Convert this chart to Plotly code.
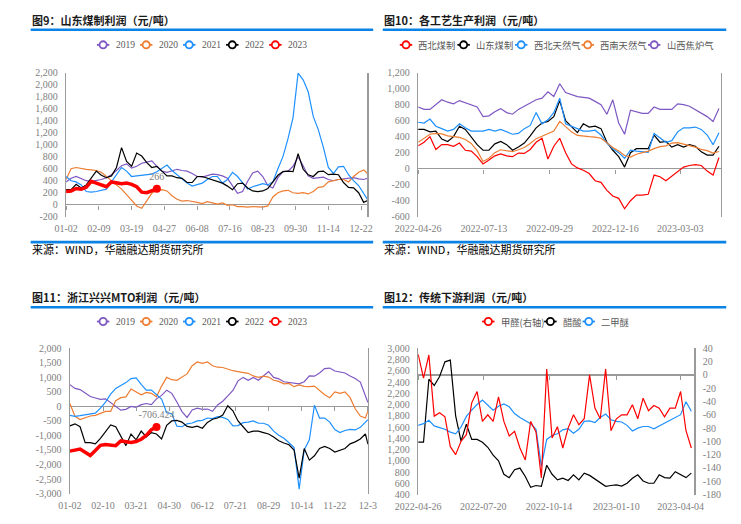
import plotly.graph_objects as go
import pandas as pd

W, H = 741, 524

# ======================= DATA =======================
# 图9 山东煤制利润（元/吨）: x = trading-day index within the year
p1_idx = list(range(0, 237, 4)) + [239]
p1_2019 = [380, 440, 470, 440, 400, 390, 400, 420, 450, 500, 570, 650, 680, 610, 640, 690, 710, 730, 640, 560,
           540, 560, 590, 570, 560, 520, 470, 460, 490, 510, 500, 480, 440, 320, 190, 220, 390, 530, 560, 470,
           320, 280, 450, 550, 560, 640, 800, 650, 480, 440, 450, 460, 420, 400, 420, 430, 450, 450, 430, 420, 440]
p1_2020 = [420, 600, 620, 600, 590, 580, 570, 540, 470, 400, 330, 260, 170, 70, -20, -60, 60, 190, 240, 250,
           230, 150, 90, 60, 70, 60, 40, 20, 50, 30, 10, 30, -10, 0, -30, -30, -40, -30, -40, -40,
           -20, 130, 200, 230, 240, 200, 190, 200, 180, 220, 290, 300, 380, 400, 420, 420, 380, 470, 540, 580, 520]
p1_2021 = [470, 400, 380, 330, 220, 210, 220, 240, 260, 380, 510, 620, 560, 470, 480, 490, 500, 510, 550, 610,
           660, 570, 500, 420, 360, 310, 330, 360, 420, 470, 470, 360, 420, 540, 470, 370, 260, 300, 330, 350,
           330, 380, 600, 800, 1100, 1450, 2190, 2080, 1880, 1470, 1250, 960, 620, 520, 630, 640, 500, 400, 320, 180, 90]
p1_2022 = [250, 250, 340, 280, 330, 450, 560, 490, 450, 480, 620, 950, 720, 640, 860, 810, 700, 620, 640, 560,
           480, 480, 450, 440, 370, 370, 470, 470, 440, 410, 390, 360, 310, 250, 350, 360, 280, 230, 220, 230,
           270, 380, 490, 550, 560, 550, 850, 590, 500, 470, 550, 560, 500, 510, 500, 370, 290, 280, 200, 40, 70]
p1_2023 = [220, 230, 270, 260, 290, 390, 360, 330, 300, 380, 370, 350, 360, 340, 300, 210, 200, 230, 266]
p1_years = ["2019", "2020", "2021", "2022", "2023"]
p1_xtick_vals = list(range(0, 235, 26))
p1_xtick_text = ["01-02", "02-09", "03-19", "04-27", "06-08", "07-16", "08-23", "09-30", "11-14", "12-22"]
p1_ytick_vals = list(range(-200, 2201, 200))

# 图10 各工艺生产利润（元/吨）: weekly samples
p2_dates = pd.date_range("2022-04-26", periods=52, freq="7D")
p2_names = ["西北煤制", "山东煤制", "西北天然气", "西南天然气", "山西焦炉气"]
p2_nw_coal = [285, 330, 400, 240, 300, 300, 280, 320, 230, 220, 150, 60, 110, 160, 185, 160, 150, 195, 190, 240,
              330, 380, 120, 280, 380, 200, 60, 10, -20, -60, -150, -170, -270, -340, -370, -500, -400, -330, -330, -320,
              -80, -100, -150, -90, -40, 20, 40, 50, 40, -30, -80, 140]
p2_sd_coal = [490, 490, 460, 470, 370, 340, 400, 530, 490, 400, 300, 230, 230, 310, 340, 300, 230, 270, 320, 410,
              510, 570, 590, 650, 850, 600, 520, 450, 560, 520, 530, 500, 330, 230, 150, 20, 200, 250, 250, 250,
              420, 330, 340, 270, 300, 270, 300, 280, 210, 170, 170, 280]
p2_nw_gas = [580, 570, 620, 530, 500, 470, 490, 560, 510, 470, 470, 470, 490, 470, 490, 460, 430, 440, 500, 540,
             700, 560, 610, 700, 880, 560, 530, 500, 470, 470, 480, 420, 320, 250, 200, 130, 230, 220, 210, 205,
             440, 390, 330, 350, 460, 510, 510, 520, 490, 420, 300, 450]
p2_sw_gas = [330, 380, 430, 440, 435, 410, 400, 390, 365, 315, 225, 90, 130, 200, 236, 220, 212, 236, 265, 315,
             375, 405, 435, 470, 590, 520, 460, 415, 405, 400, 395, 380, 325, 265, 220, 165, 145, 180, 200, 220,
             250, 275, 285, 320, 325, 305, 290, 270, 240, 225, 195, 215]
p2_sx_coke = [770, 740, 740, 800, 860, 830, 810, 850, 820, 790, 770, 650, 660, 710, 750, 700, 680, 740, 780, 820,
              860, 880, 960, 900, 1060, 950, 920, 900, 890, 880, 840, 800, 680, 860, 570, 430, 730, 710, 690, 690,
              770, 740, 740, 740, 810, 800, 780, 740, 690, 650, 590, 750]
p2_xtick_vals = ["2022-04-26", "2022-07-13", "2022-09-29", "2022-12-16", "2023-03-03"]
p2_ytick_vals = list(range(-600, 1201, 200))

# 图11 浙江兴兴MTO利润（元/吨）: x = trading-day index within the year
p3_idx = list(range(0, 233, 4)) + [234]
p3_2019 = [750, 620, 580, 450, 340, 290, 240, 260, 120, 0, -130, -100, 0, -30, 60, 100, 60, 260, 380, 560,
           450, 150, -180, -380, -120, -60, -100, -90, -170, 50, 180, 360, 550, 880, 1000, 900, 1000, 900, 1050, 1200,
           1000, 950, 850, 830, 790, 780, 850, 1050, 1040, 1150, 1300, 1320, 1220, 1180, 1150, 1050, 960, 840, 330, 130]
p3_2020 = [100, -340, -450, -400, -330, -310, -230, -170, -170, 200, 300, 330, 600, 500, 400, 480, 450, 330, 700, 1000,
           920, 900, 1010, 1120, 1400, 1530, 1480, 1530, 1400, 1350, 1340, 1280, 1230, 1200, 1180, 1140, 1050, 1000, 1040, 1010,
           900, 860, 780, 790, 680, 740, 690, 680, 700, 560, 400, 300, 500, 450, 500, 300, -80, -330, -400, -160]
p3_2021 = [-310, -340, -320, -290, -270, -230, -60, 150, 420, 620, 720, 820, 960, 980, 760, 560, 560, 420, 250, -220,
           -250, -680, -700, -600, -570, -500, -480, -400, -420, -350, -380, -450, -670, -660, -560, -540, -500, -580, -580, -650,
           -850, -990, -1100, -1250, -1420, -2850, -1500, -1150, 40, -400, -400, -540, -800, -900, -830, -790, -810, -720, -560, -460]
p3_2022 = [-670, -600, -700, -1250, -1250, -1290, -1100, -850, -640, -700, -1000, -1350, -950, -1150, -850, -1050, -900, -950, -1120, -650,
           -500, -480, -540, -690, -720, -680, -750, -550, -440, -400, -300, 20, -150, -500, -700, -900, -850, -850, -900, -950,
           -1050, -1180, -1260, -1320, -1500, -2470, -1450, -1850, -1700, -1450, -1380, -1450, -1570, -1500, -1450, -1290, -1220, -1120, -950, -1300]
p3_2023 = [-1540, -1500, -1470, -1580, -1690, -1520, -1340, -1310, -1330, -1350, -1190, -1220, -1240, -1210, -1130, -1000, -800, -706.424]
p3_xtick_vals = list(range(0, 235, 26))
p3_xtick_text = ["01-02", "02-10", "03-21", "04-30", "06-12", "07-21", "08-29", "10-14", "11-22", "12-3"]
p3_ytick_vals = list(range(-3000, 2001, 500))

# 图12 传统下游利润（元/吨）: weekly samples
p4_dates = pd.date_range("2022-04-26", periods=52, freq="7D")
p4_names = ["甲醛(右轴)", "醋酸", "二甲醚"]
p4_formaldehyde = [31, -5, 30, -62, -57, -63, -108, -120, -100, -90, -42, -25, -70, -60, -70, -33, -70, -92, -85, -110,
                   -128, -70, -86, -155, 9, -95, -78, -110, -80, -60, -75, -66, 0, -50, -66, 9, -84, -66, -60, -60,
                   -45, -66, -35, -54, -46, -50, -63, -50, -50, -25, -84, -110]
p4_acetic = [1330, 1330, 2450, 2340, 2500, 2760, 2790, 1800, 1350, 1650, 1380, 1380, 1330, 1240, 1100, 1000, 760, 700, 840, 870,
             720, 530, 560, 545, 920, 760, 660, 690, 650, 750, 660, 780, 740, 670, 600, 545, 560, 570, 550, 600,
             690, 750, 640, 600, 600, 750, 700, 690, 806, 748, 700, 780]
p4_dme = [1630, 1660, 1720, 1620, 1590, 1560, 1510, 1480, 1600, 1790, 1900, 2000, 2080, 1990, 1900, 1970, 2010, 1960, 1840, 1770,
          1720, 1660, 1560, 900, 1380, 1450, 1480, 1550, 1570, 1490, 1560, 1700, 1710, 1680, 1770, 1830, 1730, 1700, 1690, 1630,
          1530, 1580, 1610, 1610, 1570, 1620, 1660, 1720, 1760, 1820, 2050, 1880]
p4_xtick_vals = ["2022-04-26", "2022-07-20", "2022-10-14", "2023-01-10", "2023-04-04"]
p4_yleft_vals = list(range(400, 3001, 200))
p4_yright_vals = list(range(-180, 41, 20))

# ======================= STYLE / LAYOUT =======================
PURPLE, ORANGE, BLUE, BLACK, RED = "#7E57C2", "#ED7D31", "#1E90FF", "#000000", "#FF0000"
SEP = "#0A82E6"
AX = "#9A9A9A"
TICK = dict(family="Liberation Serif", size=10, color="#808080")
CJK = "Noto Sans CJK SC"

def fx(px):
    return px / W

def fy(py):
    return 1 - py / H

# plot boxes in pixels (left, right, top, bottom)
B1 = (45, 360, 69.0, 216.3)
B2 = (413, 729.5, 69.0, 216.3)
B3 = (49, 360.5, 350.7, 499.0)
B4 = (413, 701.7, 350.7, 500.0)

def dx(b):
    return [fx(b[0]), fx(b[1])]

def dy(b):
    return [fy(b[3]), fy(b[2])]

def zero_pos(b, rng):
    d = dy(b)
    return d[0] + (0 - rng[0]) / (rng[1] - rng[0]) * (d[1] - d[0])

def yax(b, rng, vals, anchor, mirror=True, zero=True, **kw):
    d = dict(domain=dy(b), range=rng, tickvals=vals, ticktext=[f"{v:,}" for v in vals],
             showline=True, linecolor=AX, linewidth=1.3, mirror=mirror, showgrid=False,
             zeroline=zero, zerolinecolor=AX, zerolinewidth=1.2, ticks="", tickfont=TICK,
             ticklabelstandoff=5, anchor=anchor, fixedrange=True)
    d.update(kw)
    return d

def xax(b, rng, vals, text, anchor, typ="linear"):
    return dict(domain=dx(b), range=rng, type=typ, tickvals=vals, ticktext=text,
                showline=False, showgrid=False, zeroline=False, ticks="", tickfont=TICK,
                ticklabelstandoff=4, anchor=anchor, fixedrange=True)

def tickax(over, rng, vals, pos, typ="linear"):
    return dict(overlaying=over, anchor="free", position=pos, range=rng, type=typ, tickvals=vals,
                showticklabels=False, ticks="outside", ticklen=4, tickwidth=1, tickcolor=AX,
                showline=False, showgrid=False, zeroline=False, fixedrange=True)

fig = go.Figure()

def line(x, y, col, xa, ya, w=1.2):
    fig.add_trace(go.Scatter(x=x, y=y, mode="lines", line=dict(color=col, width=w),
                             xaxis=xa, yaxis=ya, hoverinfo="skip", showlegend=False))

def endpoint(x, y, xa, ya):
    fig.add_trace(go.Scatter(x=[x], y=[y], mode="markers+text", text=[f"{y:g}"],
                             textposition="top center",
                             textfont=dict(family="Liberation Serif", size=10, color="#808080"),
                             marker=dict(color=RED, size=8), xaxis=xa, yaxis=ya,
                             hoverinfo="skip", showlegend=False))

def helper(xvals, xa, ya):
    fig.add_trace(go.Scatter(x=xvals, y=[None] * len(xvals), mode="lines", xaxis=xa, yaxis=ya,
                             hoverinfo="skip", showlegend=False))

# ---- Panel 1
yr_cols = [PURPLE, ORANGE, BLUE, BLACK, RED]
for ys, col in zip([p1_2019, p1_2020, p1_2021, p1_2022], yr_cols[:4]):
    line(p1_idx, ys, col, "x", "y")
x23 = p1_idx[:len(p1_2023)]
line(x23, p1_2023, RED, "x", "y", w=3.5)
endpoint(x23[-1], p1_2023[-1], "x", "y")
helper(p1_xtick_vals, "x2", "y")

# ---- Panel 2
for ys, col in zip([p2_nw_coal, p2_sd_coal, p2_nw_gas, p2_sw_gas, p2_sx_coke], [RED, BLACK, BLUE, ORANGE, PURPLE]):
    line(p2_dates, ys, col, "x3", "y2")
helper(p2_xtick_vals, "x4", "y2")

# ---- Panel 3
for ys, col in zip([p3_2019, p3_2020, p3_2021, p3_2022], yr_cols[:4]):
    line(p3_idx, ys, col, "x5", "y3")
x23b = p3_idx[:len(p3_2023)]
line(x23b, p3_2023, RED, "x5", "y3", w=3.5)
endpoint(x23b[-1], p3_2023[-1], "x5", "y3")
helper(p3_xtick_vals, "x6", "y3")

# ---- Panel 4
line(p4_dates, p4_formaldehyde, RED, "x7", "y5")
line(p4_dates, p4_acetic, BLACK, "x7", "y4")
line(p4_dates, p4_dme, BLUE, "x7", "y4")
helper(p4_xtick_vals, "x8", "y5")

r1 = [-200, 2200]
r2 = [-600, 1200]
r3 = [-3000, 2000]
r4l = [400, 3000]
r4r = [-180, 40]
x1r = [0, 239]
x2r = ["2022-04-26", "2023-04-20 10:00"]
x3r = [0, 234]
x4r = ["2022-04-26", "2023-04-22"]

layout = dict(
    width=W, height=H, margin=dict(l=0, r=0, t=0, b=0),
    paper_bgcolor="white", plot_bgcolor="white", showlegend=False, hovermode=False,
    xaxis=xax(B1, x1r, p1_xtick_vals, p1_xtick_text, "y"),
    xaxis2=tickax("x", x1r, p1_xtick_vals, zero_pos(B1, r1)),
    yaxis=yax(B1, r1, p1_ytick_vals, "x"),
    xaxis3=xax(B2, x2r, p2_xtick_vals, p2_xtick_vals, "y2", typ="date"),
    xaxis4=tickax("x3", x2r, p2_xtick_vals, zero_pos(B2, r2), typ="date"),
    yaxis2=yax(B2, r2, p2_ytick_vals, "x3"),
    xaxis5=xax(B3, x3r, p3_xtick_vals, p3_xtick_text, "y3"),
    xaxis6=tickax("x5", x3r, p3_xtick_vals, zero_pos(B3, r3)),
    yaxis3=yax(B3, r3, p3_ytick_vals, "x5"),
    xaxis7=xax(B4, x4r, p4_xtick_vals, p4_xtick_vals, "y4", typ="date"),
    xaxis8=tickax("x7", x4r, p4_xtick_vals, zero_pos(B4, r4r), typ="date"),
    yaxis4=yax(B4, r4l, p4_yleft_vals, "x7", mirror=False, zero=False),
    yaxis5=yax(B4, r4r, p4_yright_vals, "x7", mirror=False, zero=True, overlaying="y4", side="right"),
)

shapes = []
annotations = []

def hline(x0, x1, y, col, w):
    shapes.append(dict(type="line", xref="paper", yref="paper", x0=fx(x0), x1=fx(x1), y0=fy(y), y1=fy(y),
                       line=dict(color=col, width=w)))

def text(x, y, s, font, xanchor="left"):
    annotations.append(dict(x=fx(x), y=fy(y), xref="paper", yref="paper", text=s, showarrow=False,
                            xanchor=xanchor, yanchor="middle", font=font, borderpad=0))

TITLE_FONT = dict(family=CJK, size=11, color="#1A1A1A")
SRC_FONT = dict(family=CJK, size=11, color="#000000")

# titles & separators
text(8, 15, "<b>图9：山东煤制利润（元/吨）</b>", TITLE_FONT)
text(376.5, 15, "<b>图10：各工艺生产利润（元/吨）</b>", TITLE_FONT)
text(8, 298, "<b>图11：浙江兴兴MTO利润（元/吨）</b>", TITLE_FONT)
text(376.5, 298, "<b>图12：传统下游利润（元/吨）</b>", TITLE_FONT)
for (a, b_) in [(8, 366), (376, 735)]:
    hline(a, b_, 25.3, SEP, 2.6)
    hline(a, b_, 242.2, SEP, 2.6)
    hline(a, b_, 308.8, SEP, 2.6)
text(8, 249.5, "来源：WIND，华融融达期货研究所", SRC_FONT)
text(376.5, 249.5, "来源：WIND，华融融达期货研究所", SRC_FONT)

# manual legends
def text_w(s, fs):
    w = 0.0
    for ch in s:
        if ord(ch) > 0x2E80:
            w += fs
        elif ch.isdigit():
            w += 0.5 * fs
        else:
            w += 0.333 * fs
    return w

def legend(items, cx, cy, fam, fs, gap2, sym=13, gap1=5.5):
    widths = [text_w(n, fs) for n, _ in items]
    total = sum(sym + gap1 + w for w in widths) + gap2 * (len(items) - 1)
    x = cx - total / 2
    for (name, col), w in zip(items, widths):
        hline(x, x + sym, cy, col, 1.8)
        c = x + sym / 2
        shapes.append(dict(type="circle", xref="paper", yref="paper", xsizemode="pixel", ysizemode="pixel",
                           xanchor=fx(c), yanchor=fy(cy), x0=-3.6, x1=3.6, y0=-3.6, y1=3.6,
                           fillcolor="white", line=dict(color=col, width=1.8)))
        text(x + sym + gap1, cy, name, dict(family=fam, size=fs, color="#595959"))
        x += sym + gap1 + w + gap2

legend(list(zip(p1_years, yr_cols)), 186, 40.7, "Liberation Serif", 9.5, 7.5)
legend(list(zip(p2_names, [RED, BLACK, BLUE, ORANGE, PURPLE])), 556, 40.7, CJK, 9.3, 4.5)
legend(list(zip(p1_years, yr_cols)), 186, 323.3, "Liberation Serif", 9.5, 7.5)
legend(list(zip(p4_names, [RED, BLACK, BLUE])), 555.5, 323.3, CJK, 9.3, 3)

layout["shapes"] = shapes
layout["annotations"] = annotations
fig.update_layout(**layout)

fig.write_html("out.html", config={"displayModeBar": False, "staticPlot": True},
               post_script="document.body.style.margin='0';document.body.style.padding='0';")
